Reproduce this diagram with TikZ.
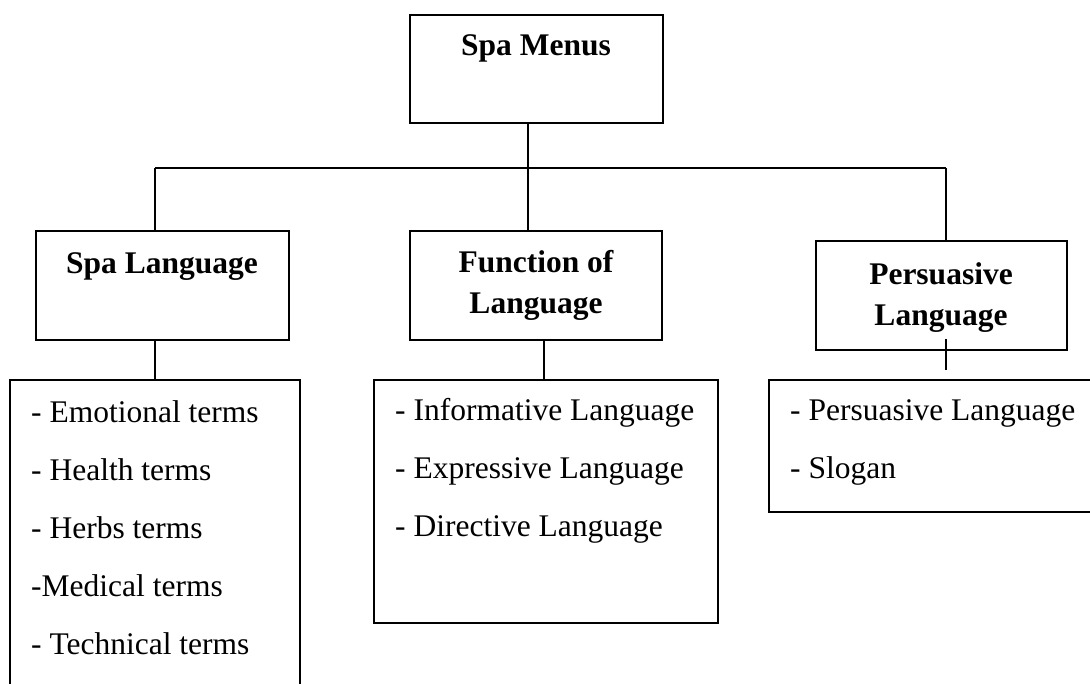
\documentclass[tikz,border=0pt]{standalone}
\usepackage{fontspec}
\setmainfont{Liberation Serif}
\begin{document}
\begin{tikzpicture}[x=1pt,y=-1pt,
  box/.style={draw, line width=1.6pt, inner sep=0pt, outer sep=0pt, anchor=north west},
  conn/.style={line width=1.3pt},
  hd/.style={font=\fontsize{31.5}{41}\selectfont\bfseries, align=center, inner sep=0pt},
  lst/.style={font=\fontsize{31.5}{58}\selectfont, align=left, inner sep=0pt}]
\path[use as bounding box, clip] (0,0) rectangle (1090,683);
% boxes
\node[box, minimum width=253pt, minimum height=108pt] (top) at (410,15) {};
\node[box, minimum width=253pt, minimum height=109pt] (sl) at (36,231) {};
\node[box, minimum width=252pt, minimum height=109pt] (fn) at (410,231) {};
\node[box, minimum width=251pt, minimum height=109pt] (pl) at (816,241) {};
\node[box, minimum width=290pt, minimum height=330pt] (lb) at (10,380) {};
\node[box, minimum width=344pt, minimum height=243pt] (mb) at (374,380) {};
\node[box, minimum width=331pt, minimum height=132pt] (rb) at (769,380) {};
% connectors
\coordinate (j) at (528,168);
\coordinate (hl) at (155,168);
\coordinate (hr) at (946,168);
\coordinate (m2) at (544,360);
\coordinate (p1) at (946,339);
\coordinate (p2) at (946,370);
\draw[conn] (j |- top.south) -- (j);
\draw[conn] (hl) -- (hr);
\draw[conn] (hl) -- (hl |- sl.north);
\draw[conn] (j) -- (j |- fn.north);
\draw[conn] (hr) -- (hr |- pl.north);
\draw[conn] (hl |- sl.south) -- (hl |- lb.north);
\draw[conn] (m2 |- fn.south) -- (m2 |- mb.north);
\draw[conn] (p1) -- (p2);
% texts (base anchor = baseline of the last line)
\node[hd, anchor=base] (tt) at (536,55) {Spa Menus};
\node[hd, anchor=base] (slt) at (162,273) {Spa Language};
\node[hd, anchor=base] (fnt) at (536,313) {Function of\\Language};
\node[hd, anchor=base] (plt) at (941,325) {Persuasive\\Language};
\node[lst, anchor=base west] (lbt) at (31,654) {- Emotional terms\\- Health terms\\- Herbs terms\\-Medical terms\\- Technical terms};
\node[lst, anchor=base west] (mbt) at (395,536) {- Informative Language\\- Expressive Language\\- Directive Language};
\node[lst, anchor=base west] (rbt) at (790,478) {- Persuasive Language\\- Slogan};
\end{tikzpicture}
\end{document}
